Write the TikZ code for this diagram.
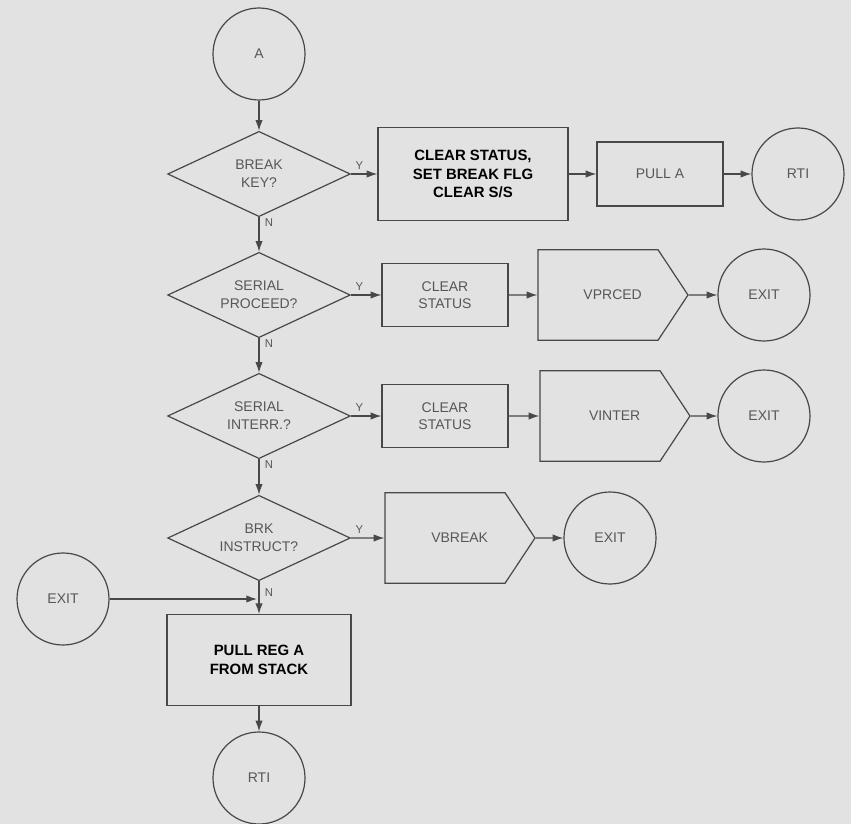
\documentclass[tikz,border=0pt]{standalone}
\usepackage{fontspec}
\setmainfont{Liberation Sans}
\usetikzlibrary{arrows.meta,shapes.geometric,shapes.symbols}
\definecolor{PaperGray}{HTML}{E2E2E2}
\definecolor{InkLine}{HTML}{484848}
\definecolor{InkFaint}{HTML}{575757}
\newcommand{\vecpad}{\hspace*{22pt}}
\tikzset{
  term/.style={circle, draw=InkLine, line width=0.9pt, minimum size=69pt,
               inner sep=0pt, text=InkFaint, font=\fontsize{10.5}{13}\selectfont},
  test/.style={diamond, aspect=2.14, draw=InkLine, line width=0.9pt, minimum width=137pt,
               minimum height=64pt, inner sep=0pt, align=center,
               text=InkFaint, font=\fontsize{10.5}{13.5}\selectfont},
  proc/.style={rectangle, draw=InkLine, line width=0.9pt, minimum width=94.5pt,
               minimum height=47pt, inner sep=0pt, align=center,
               text=InkFaint, font=\fontsize{10.5}{13}\selectfont},
  boldproc/.style={proc, text=black, font=\fontsize{11.2}{14}\selectfont\bfseries},
  vecjump/.style={signal, signal to=east, signal pointer angle=113,
               draw=InkLine, line width=0.9pt, minimum width=112.5pt,
               minimum height=68pt, inner sep=0pt,
               text=InkFaint, font=\fontsize{10.5}{13}\selectfont},
  flow/.style={draw=InkLine, line width=0.9pt, -{Latex[length=8pt,width=5.5pt]}},
  ynlabel/.style={font=\fontsize{8.5}{9}\selectfont, text=InkFaint, inner sep=1pt},
}
\begin{document}
\begin{tikzpicture}[x=0.75pt, y=-0.75pt]
\fill[PaperGray] (0,0) rectangle (851,824);
\useasboundingbox (0,0) rectangle (851,824);
\node[term] (entry) at (259,54) {A};
\node[test] (brkkey) at (259,174) {BREAK\\KEY?};
\node[boldproc, minimum width=142.5pt, minimum height=70pt] (setflg) at (473,174) {CLEAR STATUS,\\SET BREAK FLG\\CLEAR S/S};
\node[proc, minimum height=48pt] (pulla) at (660,174) {PULL A};
\node[term] (rtitop) at (798,174) {RTI};
\node[test] (serproc) at (259,295) {SERIAL\\PROCEED?};
\node[proc] (clrproc) at (445,295) {CLEAR\\STATUS};
\node[vecjump] (vprced) at (598,295) {\vecpad VPRCED};
\node[term] (exitproc) at (764,295) {EXIT};
\node[test] (serint) at (259,416) {SERIAL\\INTERR.?};
\node[proc] (clrint) at (445,416) {CLEAR\\STATUS};
\node[vecjump] (vinter) at (600,416) {\vecpad VINTER};
\node[term] (exitint) at (764,416) {EXIT};
\node[test] (brkinst) at (259,538) {BRK\\INSTRUCT?};
\node[vecjump] (vbreak) at (445,538) {\vecpad VBREAK};
\node[term] (exitbrk) at (610,538) {EXIT};
\node[term] (exitside) at (63,599) {EXIT};
\coordinate (join) at (257,599);
\node[boldproc, minimum width=138pt, minimum height=68pt] (pullreg) at (259,660) {PULL REG A\\FROM STACK};
\node[term] (rtibot) at (259,778) {RTI};

\draw[flow] (entry) -- (brkkey);
\draw[flow] (brkkey) -- (setflg) node[ynlabel, pos=0, anchor=south west, xshift=2pt, yshift=2pt] {Y};
\draw[flow] (setflg) -- (pulla);
\draw[flow] (pulla) -- (rtitop);
\draw[flow] (brkkey) -- (serproc) node[ynlabel, pos=0, anchor=north west, xshift=3pt] {N};
\draw[flow] (serproc) -- (clrproc) node[ynlabel, pos=0, anchor=south west, xshift=2pt, yshift=2pt] {Y};
\draw[flow] (clrproc) -- (vprced);
\draw[flow] (vprced) -- (exitproc);
\draw[flow] (serproc) -- (serint) node[ynlabel, pos=0, anchor=north west, xshift=3pt] {N};
\draw[flow] (serint) -- (clrint) node[ynlabel, pos=0, anchor=south west, xshift=2pt, yshift=2pt] {Y};
\draw[flow] (clrint) -- (vinter);
\draw[flow] (vinter) -- (exitint);
\draw[flow] (serint) -- (brkinst) node[ynlabel, pos=0, anchor=north west, xshift=3pt] {N};
\draw[flow] (brkinst) -- (vbreak) node[ynlabel, pos=0, anchor=south west, xshift=2pt, yshift=2pt] {Y};
\draw[flow] (vbreak) -- (exitbrk);
\draw[flow] (brkinst) -- (pullreg) node[ynlabel, pos=0, anchor=north west, xshift=3pt, yshift=-4pt] {N};
\draw[flow] (exitside) -- (join);
\draw[flow] (pullreg) -- (rtibot);
\end{tikzpicture}
\end{document}
